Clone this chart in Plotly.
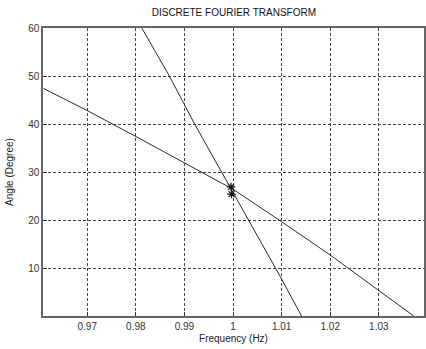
import plotly.graph_objects as go

# Phase angle (degrees) versus frequency (Hz) for the two DFT estimates
freq_a = [0.961, 0.970, 0.980, 0.990, 1.000, 1.010, 1.020, 1.030, 1.0372]
angle_a = [47.4, 42.8, 37.4, 31.9, 26.4, 19.65, 12.7, 5.3, 0.0]

freq_b = [0.98123, 0.9869, 0.9921, 1.000, 1.010, 1.0141]
angle_b = [60.0, 50.0, 40.0, 25.8, 7.7, 0.0]

# Peak estimates marked with asterisks
peak_freq = [0.9996, 0.9997]
peak_angle = [26.9, 25.4]

x_ticks = [0.97, 0.98, 0.99, 1.00, 1.01, 1.02, 1.03]
x_tick_text = ["0.97", "0.98", "0.99", "1", "1.01", "1.02", "1.03"]
y_ticks = [10, 20, 30, 40, 50, 60]

font_family = "Liberation Sans, Arial, sans-serif"

fig = go.Figure()
fig.add_trace(go.Scatter(x=freq_a, y=angle_a, mode="lines",
                         line=dict(color="#2a2a2a", width=1), hoverinfo="skip"))
fig.add_trace(go.Scatter(x=freq_b, y=angle_b, mode="lines",
                         line=dict(color="#2a2a2a", width=1), hoverinfo="skip"))
fig.add_trace(go.Scatter(x=peak_freq, y=peak_angle, mode="markers",
                         marker=dict(symbol="asterisk-open", size=7, color="#111",
                                     line=dict(color="#111", width=1.2)),
                         hoverinfo="skip"))

fig.update_layout(
    width=426, height=349,
    margin=dict(l=43, r=0, t=28, b=33),
    paper_bgcolor="white", plot_bgcolor="white",
    showlegend=False,
    font=dict(family=font_family, size=10, color="#222"),
    title=dict(text="DISCRETE FOURIER TRANSFORM", x=0.549, xanchor="center",
               y=0.965, yanchor="middle",
               font=dict(family=font_family, size=10, color="#111")),
)
fig.update_xaxes(
    range=[0.9609, 1.0393], tickvals=x_ticks, ticktext=x_tick_text,
    showgrid=True, gridcolor="#444", gridwidth=1, griddash="3px,2px",
    ticks="inside", ticklen=4, tickcolor="#333",
    showline=True, linecolor="#666", linewidth=1.5, mirror=True,
    zeroline=False,
    tickfont=dict(size=10, color="#333"),
    title=dict(text="Frequency (Hz)", standoff=4,
               font=dict(size=10, color="#222")),
)
fig.update_yaxes(
    range=[0, 60], tickvals=y_ticks,
    showgrid=True, gridcolor="#444", gridwidth=1, griddash="3px,2px",
    ticks="inside", ticklen=4, tickcolor="#333",
    showline=True, linecolor="#666", linewidth=1.5, mirror=True,
    zeroline=False,
    tickfont=dict(size=10, color="#333"),
    title=dict(text="Angle (Degree)", standoff=13,
               font=dict(size=10, color="#222")),
)

fig.write_html("out.html")
